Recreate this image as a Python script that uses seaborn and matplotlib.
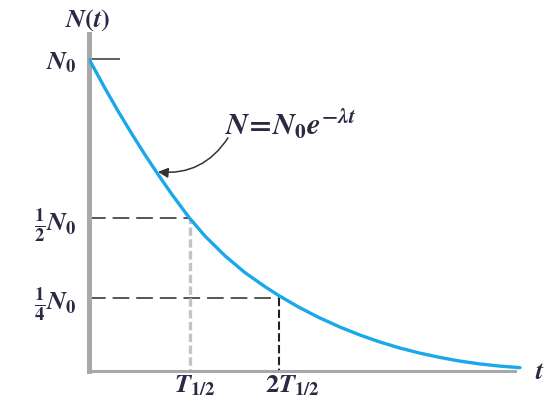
import matplotlib
matplotlib.use("Agg")
import matplotlib.pyplot as plt
from matplotlib.transforms import ScaledTranslation
import seaborn as sns
import pandas as pd

# ---- data (t in arbitrary units, N as fraction of N0) ----
t_vals = [0.0, 0.158, 0.290, 0.423, 0.554, 0.686, 0.819, 0.950, 1.0,
          1.149, 1.347, 1.545, 1.743, 1.88, 2.072, 2.270, 2.485, 2.683, 2.881,
          3.079, 3.277, 3.475, 3.673, 3.871, 4.069, 4.267]
n_vals = [1.0, 0.908, 0.835, 0.765, 0.699, 0.636, 0.575, 0.519, 0.498,
          0.443, 0.381, 0.328, 0.284, 0.256, 0.2205, 0.188, 0.157, 0.132, 0.110,
          0.091, 0.075, 0.0615, 0.050, 0.041, 0.0343, 0.0294]
level_vals = [1.0, 0.5, 0.25]
level_labels = [r"$N_0$", r"$\frac{1}{2}N_0$", r"$\frac{1}{4}N_0$"]
mark_vals = [1.0, 1.88]
mark_labels = [r"$T_{1/2}$", r"$2T_{1/2}$"]
eq_text = r"$N\!=\!N_0e^{-\lambda t}$"

df = pd.DataFrame({"t": t_vals, "N": n_vals})

sns.set_theme(style="white")
plt.rcParams["mathtext.fontset"] = "custom"
plt.rcParams["mathtext.it"] = "STIXGeneral:italic:bold"
plt.rcParams["mathtext.rm"] = "STIXGeneral:bold"
plt.rcParams["mathtext.bf"] = "STIXGeneral:bold"
plt.rcParams["font.family"] = ["STIXGeneral", "DejaVu Serif"]
plt.rcParams["lines.scale_dashes"] = False

W, H = 548, 402
fig = plt.figure(figsize=(W / 100, H / 100), dpi=100)
ax = fig.add_axes([89 / W, 30 / H, 442 / W, 337 / H])

txt_color = "#2a2a44"
FS = 19

# dashed guide lines
ax.hlines(level_vals[1], 0, mark_vals[0], colors="#555555", lw=1.4,
          linestyles=[(0, (12, 5))], zorder=2)
ax.hlines(level_vals[2], 0, mark_vals[1], colors="#555555", lw=1.4,
          linestyles=[(0, (12, 5))], zorder=2)
ax.vlines(mark_vals[0], 0, level_vals[1], colors="#c4c4c4", lw=2.4,
          linestyles=[(0, (6, 2.5))], zorder=2)
ax.vlines(mark_vals[1], 0, level_vals[2], colors="#222222", lw=1.5,
          linestyles=[(0, (6, 2.5))], zorder=2)
# N0 marker
ax.hlines(level_vals[0], 0, 0.31, colors="#333333", lw=1.1, zorder=2)

# curve
sns.lineplot(data=df, x="t", y="N", ax=ax, color="#1aa8ea", lw=2.4,
             sort=False, zorder=3, solid_joinstyle="round")

ax.set_xlim(0, 442 / 101)
ax.set_ylim(0.0189, 1.0786)
ax.set_xlabel("")
ax.set_ylabel("")

# spines
for s in ["top", "right"]:
    ax.spines[s].set_visible(False)
ax.spines["left"].set_color("#a8a8a8")
ax.spines["left"].set_linewidth(3.6)
ax.spines["bottom"].set_color("#a8a8a8")
ax.spines["bottom"].set_linewidth(2.2)
ax.spines["bottom"].set_bounds(0, (515 - 89) / 101)

# ticks
ax.set_yticks(level_vals, level_labels)
ax.set_xticks(mark_vals, mark_labels)
ax.tick_params(axis="both", length=0, labelsize=FS, colors=txt_color)
ax.tick_params(axis="y", pad=9)
ax.tick_params(axis="x", pad=1.5)
xl = ax.get_xticklabels()
xl[0].set_transform(xl[0].get_transform() + ScaledTranslation(5 / 100, 0, fig.dpi_scale_trans))
xl[1].set_transform(xl[1].get_transform() + ScaledTranslation(13 / 100, 0, fig.dpi_scale_trans))

# axis titles
fig.text(88 / W, 1 - 20 / H, r"$N(t)$", ha="center", va="center",
         fontsize=FS, color=txt_color)
fig.text(535 / W, 1 - 373 / H, r"$t$", ha="left", va="center",
         fontsize=FS, color=txt_color)

# annotation
ax.text(2.0, 0.797, eq_text, ha="center", va="center",
        fontsize=22, color=txt_color)
ax.annotate("", xy=(0.683, 0.645), xytext=(1.376, 0.752),
            arrowprops=dict(arrowstyle="-|>", color="#333333", lw=1.1,
                            mutation_scale=15, shrinkA=0, shrinkB=0,
                            connectionstyle="arc3,rad=-0.3"))

fig.savefig("out.png", dpi=100)
